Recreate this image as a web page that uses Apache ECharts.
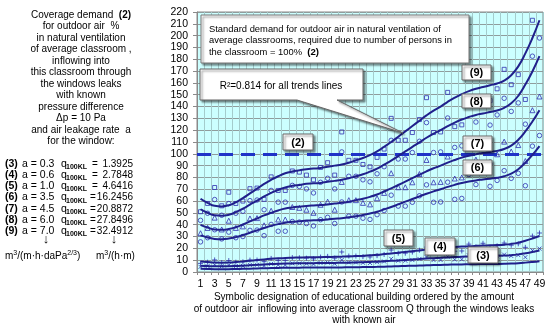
<!DOCTYPE html>
<html><head><meta charset="utf-8">
<script src="https://cdn.jsdelivr.net/npm/echarts@6/dist/echarts.min.js"></script>
<style>html,body{margin:0;padding:0;background:#fff}#c{width:550px;height:328px}</style>
</head><body><div id="c"></div>
<script>
const categories = ['1','2','3','4','5','6','7','8','9','10','11','12','13','14','15','16','17','18','19','20','21','22','23','24','25','26','27','28','29','30','31','32','33','34','35','36','37','38','39','40','41','42','43','44','45','46','47','48','49'];
const yMin = 0, yMax = 220, yStep = 10;
const standardLevel = 100;

const trend9 = [62,58.5,56,55.5,56.5,59,62.5,66.5,70.5,74.5,78,81,83.5,85,86,87,87.5,88,89,90,91,92.5,94.5,96.5,99,102,106,110,114.5,119,123.5,128,132.5,136.5,140,144,147.5,150.5,153,155,156.5,158,159.5,162,166.5,174,185,198,213];
const trend8 = [53.1,50.1,48.0,47.6,48.4,50.6,53.6,57.0,60.4,63.9,66.9,69.4,71.6,72.9,73.7,74.6,75.0,75.4,76.3,77.1,78.0,79.3,81.0,82.7,84.9,87.4,90.9,94.3,98.1,102.0,105.9,109.7,113.6,117.0,120.0,123.4,126.4,129.0,131.1,132.9,134.1,135.4,136.7,138.9,142.7,149.1,158.6,169.7,182.6];
const trend7 = [39.9,37.6,36.0,35.7,36.3,37.9,40.2,42.8,45.3,47.9,50.1,52.1,53.7,54.6,55.3,55.9,56.3,56.6,57.2,57.9,58.5,59.5,60.8,62.0,63.6,65.6,68.1,70.7,73.6,76.5,79.4,82.3,85.2,87.8,90.0,92.6,94.8,96.8,98.4,99.6,100.6,101.6,102.5,104.1,107.0,111.9,118.9,127.3,136.9];
const trend6 = [31,29.25,28,27.75,28.25,29.5,31.25,33.25,35.25,37.25,39,40.5,41.75,42.5,43,43.5,43.75,44,44.5,45,45.5,46.25,47.25,48.25,49.5,51,53,55,57.25,59.5,61.75,64,66.25,68.25,70,72,73.75,75.25,76.5,77.5,78.25,79,79.75,81,83.25,87,92.5,99,106.5];
const trend5 = [8.86,8.36,8.0,7.93,8.07,8.43,8.93,9.5,10.07,10.64,11.14,11.57,11.93,12.14,12.29,12.43,12.5,12.57,12.71,12.86,13.0,13.21,13.5,13.79,14.14,14.57,15.14,15.71,16.36,17.0,17.64,18.29,18.93,19.5,20.0,20.57,21.07,21.5,21.86,22.14,22.36,22.57,22.79,23.14,23.79,24.86,26.43,28.29,30.43];
const trend4 = [5.31,5.01,4.8,4.76,4.84,5.06,5.36,5.7,6.04,6.39,6.69,6.94,7.16,7.29,7.37,7.46,7.5,7.54,7.63,7.71,7.8,7.93,8.1,8.27,8.49,8.74,9.09,9.43,9.81,10.2,10.59,10.97,11.36,11.7,12.0,12.34,12.64,12.9,13.11,13.29,13.41,13.54,13.67,13.89,14.27,14.91,15.86,16.97,18.26];
const trend3 = [2.66,2.51,2.4,2.38,2.42,2.53,2.68,2.85,3.02,3.19,3.34,3.47,3.58,3.64,3.69,3.73,3.75,3.77,3.81,3.86,3.9,3.96,4.05,4.14,4.24,4.37,4.54,4.72,4.91,5.1,5.29,5.49,5.68,5.85,6.0,6.17,6.32,6.45,6.56,6.64,6.71,6.77,6.83,6.94,7.14,7.46,7.93,8.49,9.13];

const points9 = [51,58,71.5,56,67.5,58,60,70.5,71,61.5,80.5,69,69,85.5,84.5,82,78,88.5,92.5,82,118.5,94.5,94.5,91,89,97,104,130,111.5,111.5,118,129,147.5,118,118.5,152,123,124.5,165,148,170,145,155,171.5,158.5,167,146,213,231];
const points8 = [43.7,49.7,61.3,48.0,57.9,49.7,51.4,60.4,60.9,52.7,69.0,59.1,59.1,73.3,72.4,70.3,66.9,75.9,79.3,70.3,101.6,81.0,81.0,78.0,76.3,83.1,89.1,111.4,95.6,95.6,101.1,110.6,126.4,101.1,101.6,130.3,105.4,106.7,141.4,126.9,145.7,124.3,132.9,147.0,135.9,143.1,125.1,182.6,198.0];
const points7 = [32.8,37.3,46.0,36.0,43.4,37.3,38.6,45.3,45.6,39.5,51.8,44.4,44.4,55.0,54.3,52.7,50.1,56.9,59.5,52.7,76.2,60.8,60.8,58.5,57.2,62.4,66.9,83.6,71.7,71.7,75.9,82.9,94.8,75.9,76.2,97.7,79.1,80.0,106.1,95.1,109.3,93.2,99.6,110.3,101.9,107.4,93.9,136.9,148.5];
const points6 = [25.5,29,35.75,28,33.75,29,30,35.25,35.5,30.75,40.25,34.5,34.5,42.75,42.25,41,39,44.25,46.25,41,59.25,47.25,47.25,45.5,44.5,48.5,52,65,55.75,55.75,59,64.5,73.75,59,59.25,76,61.5,62.25,82.5,74,85,72.5,77.5,85.75,79.25,83.5,73,106.5,115.5];
const points5 = [7.29,8.29,10.21,8.0,9.64,8.29,8.57,10.07,10.14,8.79,11.5,9.86,9.86,12.21,12.07,11.71,11.14,12.64,13.21,11.71,16.93,13.5,13.5,13.0,12.71,13.86,14.86,18.57,15.93,15.93,16.86,18.43,21.07,16.86,16.93,21.71,17.57,17.79,23.57,21.14,24.29,20.71,22.14,24.5,22.64,23.86,20.86,30.43,33.0];
const points4 = [4.37,4.97,6.13,4.8,5.78,4.97,5.14,6.04,6.08,5.27,6.9,5.92,5.92,7.33,7.24,7.03,6.69,7.59,7.93,7.03,10.16,8.1,8.1,7.8,7.63,8.31,8.91,11.14,9.56,9.56,10.11,11.06,12.64,10.11,10.16,13.03,10.54,10.67,14.14,12.69,14.57,12.43,13.29,14.7,13.59,14.31,12.51,18.26,19.8];
const points3 = [2.19,2.49,3.07,2.4,2.89,2.49,2.57,3.02,3.04,2.64,3.45,2.96,2.96,3.66,3.62,3.51,3.34,3.79,3.96,3.51,5.08,4.05,4.05,3.9,3.81,4.16,4.46,5.57,4.78,4.78,5.06,5.53,6.32,5.06,5.08,6.51,5.27,5.34,7.07,6.34,7.29,6.21,6.64,7.35,6.79,7.16,6.26,9.13,9.9];

const rowLabels = ['(3)','(4)','(5)','(6)','(7)','(8)','(9)'];
const aValues = ['0.3','0.6','1.0','3.5','4.5','6.0','7.0'];
const qValues = ['1.3925','2.7848','4.6416','16.2456','20.8872','27.8496','32.4912'];

const leftLines = [
  '{n|Coverage demand  }{b|(2)}',
  '{n|for outdoor air  %}',
  '{n|in natural ventilation}',
  '{n|of average classroom ,}',
  '{n|inflowing into}',
  '{n|this classroom through}',
  '{n|the windows leaks}',
  '{n|with known}',
  '{n|pressure difference}',
  '{n|\u0394p = 10 Pa}',
  '{n|and air leakage rate  a}',
  '{n|for the window:}'
];
const xTitleLines = [
  'Symbolic designation of educational building ordered by the amount',
  'of outdoor air  inflowing into average classroom Q through the windows leaks',
  'with known air'
];
const noteLines = [
  'Standard demand for outdoor air in natural ventilation of',
  'average classrooms, required due to number of persons in',
  'the classroom = 100%  {b|(2)}'
];

const FF = 'Liberation Sans, Arial, sans-serif';
const LINE = '#20208c';
const MARK = '#3030b0';

const chart = echarts.init(document.getElementById('c'), null, {renderer: 'canvas'});

function scatter(data, symbol, size) {
  return {
    type: 'scatter', data: data, symbol: symbol, symbolSize: size, z: 2,
    silent: true,
    itemStyle: {color: 'rgba(0,0,0,0)', borderColor: MARK, borderWidth: 1}
  };
}
function trend(data) {
  return {
    type: 'line', data: data, smooth: true, symbol: 'none', z: 4, silent: true,
    lineStyle: {color: LINE, width: 2}
  };
}
function box(x, y, w, h, txt) {
  return [
    {type: 'rect', shape: {x: x, y: y, width: w, height: h}, z: 100,
     style: {fill: '#fff', stroke: '#666', lineWidth: 1, shadowBlur: 2, shadowOffsetX: 2, shadowOffsetY: 2, shadowColor: 'rgba(0,0,0,0.45)'}},
    {type: 'text', x: x + w / 2, y: y + h / 2 + 0.5, z: 101,
     style: {text: txt, font: 'bold 11px ' + FF, fill: '#000', align: 'center', verticalAlign: 'middle', textAlign: 'center', textVerticalAlign: 'middle'}}
  ];
}
function txt(x, y, text, opts) {
  const o = Object.assign({size: 10, align: 'left', weight: 'normal'}, opts || {});
  return {type: 'text', x: x, y: y, z: 101,
    style: {text: text, font: o.weight + ' ' + o.size + 'px ' + FF, fill: '#000',
      align: o.align, textAlign: o.align, verticalAlign: 'middle', textVerticalAlign: 'middle', rich: o.rich}};
}

const g = [];
leftLines.forEach((l, i) => g.push(txt(81, 15 + 11.5 * i, l, {align: 'center', rich: {
  n: {fontSize: 10, fontFamily: FF, fill: '#000'}, b: {fontSize: 10, fontWeight: 'bold', fontFamily: FF}}})));
rowLabels.forEach((r, i) => {
  const y = 164 + 11.2 * i;
  g.push(txt(5, y, r, {weight: 'bold', size: 10.5}));
  g.push(txt(22, y, 'a = ' + aValues[i], {size: 10.5}));
  g.push(txt(61, y, 'q', {size: 10.5}));
  g.push(txt(66, y + 3, '100KL', {weight: 'bold', size: 7}));
  g.push(txt(i < 3 ? 92 : 90, y, '=', {size: 10}));
  g.push(txt(133, y, qValues[i], {size: 10, align: 'right'}));
});
g.push(txt(46, 239, '\u2193', {size: 13, align: 'center'}));
g.push(txt(114, 239, '\u2193', {size: 13, align: 'center'}));
const supRich = {n: {fontSize: 10, fontFamily: FF}, s: {fontSize: 7, fontFamily: FF, padding: [0, 0, 6, 0]}};
g.push(txt(5, 256, '{n|m}{s|3}{n|/(m\u00b7h\u00b7daPa}{s|2/3}{n|)}', {rich: supRich}));
g.push(txt(96, 256, '{n|m}{s|3}{n|/(h\u00b7m)}', {rich: supRich}));
xTitleLines.forEach((l, i) => g.push(txt(364, 297 + 11.8 * i, l, {align: 'center'})));

// note box
g.push({type: 'rect', shape: {x: 201, y: 15, width: 268, height: 48}, z: 100,
  style: {fill: '#fff', stroke: '#777', lineWidth: 1, shadowBlur: 2, shadowOffsetX: 2, shadowOffsetY: 2, shadowColor: 'rgba(0,0,0,0.45)'}});
noteLines.forEach((l, i) => g.push(txt(209, 29 + 11.5 * i, l, {size: 9.4, rich: {b: {fontWeight: 'bold', fontSize: 9.6, fontFamily: FF}}})));
// callout
g.push({type: 'polygon', z: 100,
  shape: {points: [[200, 69], [363, 69], [363, 100], [337, 100], [403, 133], [297, 100], [200, 100]]},
  style: {fill: '#fff', stroke: '#666', lineWidth: 1, shadowBlur: 2, shadowOffsetX: 2, shadowOffsetY: 2, shadowColor: 'rgba(0,0,0,0.45)'}});
g.push(txt(281, 86, 'R\u00b2=0.814 for all trends lines', {align: 'center'}));

[[283, 134, 30, 16, '(2)'], [462, 65, 29, 15, '(9)'], [462, 94, 29, 14, '(8)'], [463, 136, 29, 15, '(7)'],
 [463, 160, 29, 15, '(6)'], [384, 230, 29, 16, '(5)'], [425, 238, 30, 17, '(4)'], [468, 247, 30, 16, '(3)']]
  .forEach(b => box(b[0], b[1], b[2], b[3], b[4]).forEach(e => g.push(e)));

const plusPath = 'path://M0,2L4,2M2,0L2,4';
const crossPath = 'path://M0,0L4,4M4,0L0,4';
const dashPath = 'path://M0,2L4,2';

chart.setOption({
  animation: false,
  textStyle: {fontFamily: FF},
  grid: {left: 197, top: 12, right: 7, bottom: 56, show: true, backgroundColor: '#ccffff', borderColor: '#8a8a8a', borderWidth: 1},
  xAxis: {
    type: 'category', data: categories, boundaryGap: true,
    axisLine: {show: true, lineStyle: {color: '#8a8a8a'}},
    axisTick: {show: true, interval: 0, length: 3, lineStyle: {color: '#8a8a8a'}},
    axisLabel: {interval: 1, fontSize: 10.5, color: '#000', margin: 7, fontFamily: FF},
    splitLine: {show: true, interval: 0, lineStyle: {color: '#a4cccc', width: 1}}
  },
  yAxis: {
    type: 'value', min: yMin, max: yMax, interval: yStep,
    axisLine: {show: true, lineStyle: {color: '#8a8a8a'}},
    axisTick: {show: true, length: 4, lineStyle: {color: '#8a8a8a'}},
    axisLabel: {fontSize: 10.5, color: '#000', margin: 9, fontFamily: FF},
    splitLine: {show: true, lineStyle: {color: '#909c9c', width: 1}}
  },
  series: [
    scatter(points9, 'rect', 4),
    scatter(points8, 'circle', 4.5),
    scatter(points7, 'triangle', 5),
    scatter(points6, 'circle', 4.5),
    scatter(points5, plusPath, 5),
    scatter(points4, crossPath, 4),
    scatter(points3, dashPath, 4),
    Object.assign(trend(trend9), {markLine: {silent: true, symbol: 'none', label: {show: false}, z: 3,
      lineStyle: {color: '#1f33c8', width: 3, type: [14, 8]}, data: [{yAxis: standardLevel}]}}),
    trend(trend8), trend(trend7), trend(trend6), trend(trend5), trend(trend4), trend(trend3)
  ],
  graphic: {elements: g}
});
</script>
</body></html>
